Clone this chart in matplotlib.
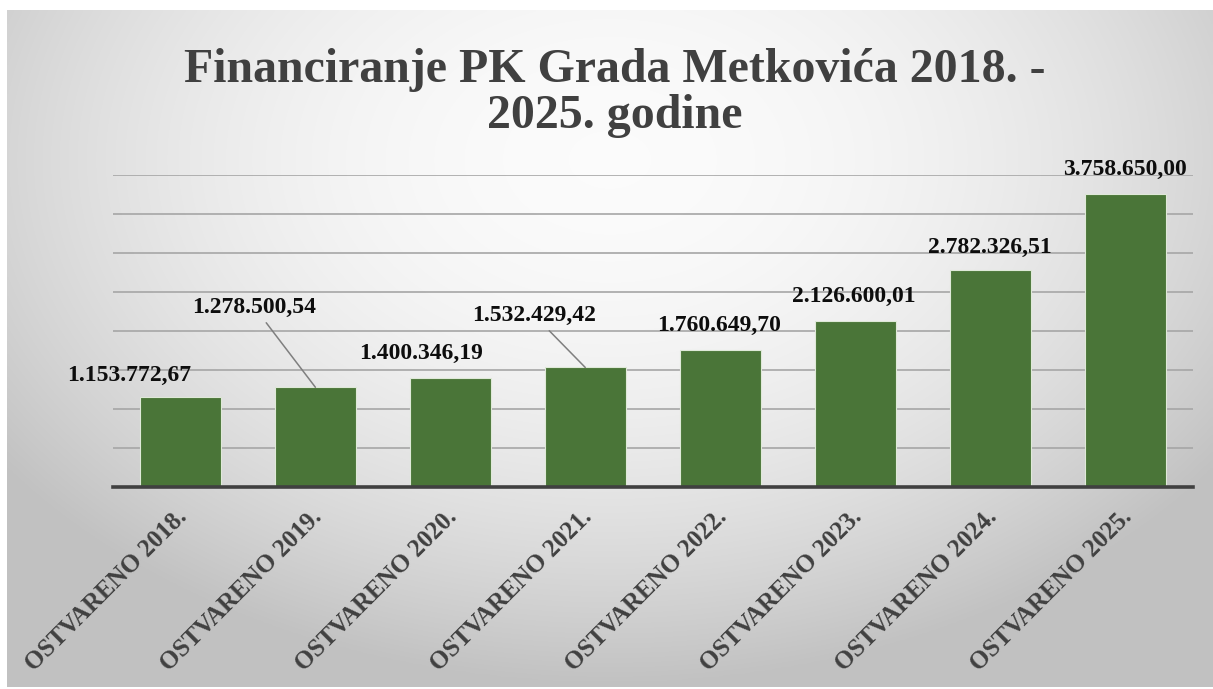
import numpy as np
import matplotlib
matplotlib.use("Agg")
import matplotlib.pyplot as plt
from matplotlib.ticker import MultipleLocator
import matplotlib.transforms as mtransforms

categories = ["OSTVARENO 2018.", "OSTVARENO 2019.", "OSTVARENO 2020.", "OSTVARENO 2021.",
              "OSTVARENO 2022.", "OSTVARENO 2023.", "OSTVARENO 2024.", "OSTVARENO 2025."]
values = [1153772.67, 1278500.54, 1400346.19, 1532429.42,
          1760649.70, 2126600.01, 2782326.51, 3758650.00]
value_labels = ["1.153.772,67", "1.278.500,54", "1.400.346,19", "1.532.429,42",
                "1.760.649,70", "2.126.600,01", "2.782.326,51", "3.758.650,00"]
title = "Financiranje PK Grada Metkovića 2018. -\n2025. godine"

# label offsets from bar top (pixels), and whether a leader line is drawn
label_dx = [-51, -61, -29, -51, -1, -1, 0, 0]
label_dy = [22, 80, 24, 52, 24, 25, 23, 24]
leader = [False, True, False, True, False, False, False, False]

W, H = 1213, 689
fig = plt.figure(figsize=(W / 100, H / 100), dpi=100)
fig.patch.set_facecolor("white")

# gradient background panel
x0, y0, x1, y1 = 7, 10, 1213, 687
bg = fig.add_axes([x0 / W, (H - y1) / H, (x1 - x0) / W, (y1 - y0) / H], zorder=-5)
yy, xx = np.mgrid[0:200, 0:400]
nx = (xx / 399.0 - 0.5) * 2
ny = (yy / 199.0 - 0.22) * 1.6
r2 = nx ** 2 + ny ** 2
shade = 0.985 - 0.19 * np.clip(r2, 0, 1.6) / 1.3
shade = np.clip(shade, 0.76, 1.0)
img = np.dstack([shade, shade, shade])
bg.imshow(img, aspect="auto", extent=[0, 1, 0, 1], origin="upper", interpolation="bilinear")
bg.set_axis_off()

ax = fig.add_axes([113 / W, (H - 487) / H, (1192.5 - 113) / W, (487 - 175) / H])
ax.set_facecolor("none")
x = np.arange(len(categories))
bars = ax.bar(x, values, width=0.6, color="#4a7538", edgecolor="#dfe9d8", linewidth=0.8, zorder=3)
ax.set_xlim(-0.5, len(categories) - 0.5)
ax.set_ylim(0, 4000000)
ax.yaxis.set_major_locator(MultipleLocator(500000))
ax.grid(axis="y", color="#a6a6a6", linewidth=1.2, zorder=0)
ax.set_axisbelow(True)
for side in ["left", "right", "top"]:
    ax.spines[side].set_visible(False)
ax.spines["bottom"].set_color("#404040")
ax.spines["bottom"].set_linewidth(2.6)
ax.spines["bottom"].set_zorder(4)
ax.tick_params(axis="y", left=False, labelleft=False)
ax.tick_params(axis="x", length=0, pad=6)
ax.set_xticks(x)
ax.set_xticklabels(categories, rotation=45, ha="right", va="center", rotation_mode="anchor",
                   fontfamily="Liberation Serif", fontweight="bold", fontsize=18, color="#404040")
offset = mtransforms.ScaledTranslation(3 / 100, -18 / 100, fig.dpi_scale_trans)
for lab in ax.get_xticklabels():
    lab.set_transform(lab.get_transform() + offset)

for i, (v, txt) in enumerate(zip(values, value_labels)):
    kw = {}
    if leader[i]:
        kw["arrowprops"] = dict(arrowstyle="-", color="#7f7f7f", lw=1.1, shrinkA=2, shrinkB=0)
    ax.annotate(txt, xy=(x[i], v), xytext=(label_dx[i], label_dy[i]), textcoords="offset pixels",
                ha="center", va="center", fontfamily="Liberation Serif", fontweight="bold",
                fontsize=17, color="#0d0d0d", zorder=5, annotation_clip=False, **kw)

fig.text(615 / W, (H - 93) / H, title, ha="center", va="center", fontfamily="Liberation Serif",
         fontweight="bold", fontsize=34.5, color="#404040", linespacing=1.05)

fig.savefig("out.png", dpi=100, facecolor="white")
